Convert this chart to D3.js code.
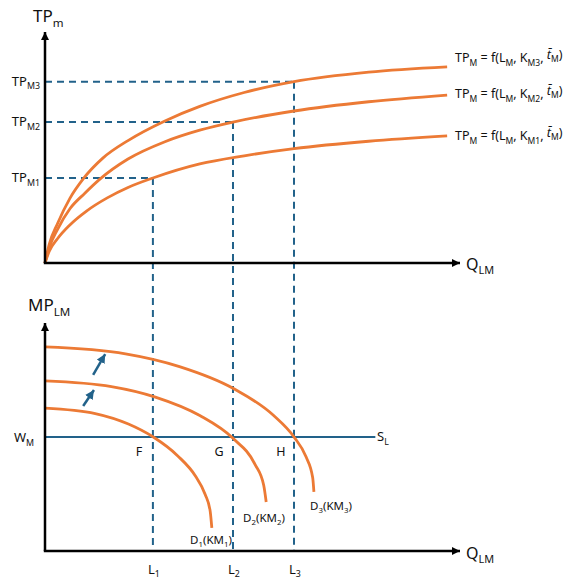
<!DOCTYPE html>
<html><head><meta charset="utf-8">
<script src="https://cdn.jsdelivr.net/npm/d3@7"></script>
<style>body{margin:0;background:#fff}svg{display:block;font-family:"Noto Sans",sans-serif}</style>
</head><body><svg id="c" width="568" height="581"></svg>
<script>
// ---- data (x: labour quantity units 0-100, y: output / MP units 0-100) ----
const tpCurve1 = [[0,0],[1,5],[3,10.5],[6,16.5],[10,22.5],[15,28.2],[20,32.7],[26,36.8],[37.3,42.9],[48,46.4],[60,49.5],[78,52.7],[96.9,55]];
const tpCurve2 = [[0,0],[1,6.5],[3,14.5],[6,23.5],[9.6,30.2],[13.3,36.4],[20,45],[28.9,52.5],[37.3,57.5],[45.3,61],[60,65.8],[78,69.8],[96.9,72.7]];
const tpCurve3 = [[0,0],[1,8],[3,17],[6,28],[9.2,36.4],[14,45.5],[20,53],[28.9,61.5],[37.3,67.8],[48,73.8],[60,78.5],[78,82.6],[96.9,84.9]];
const labourLevels = [26.0, 45.3, 60.0];          // L1, L2, L3
const tpLevels = [36.8, 61.0, 78.5];              // TPM1, TPM2, TPM3
const labourTickLabels = ["1", "2", "3"];
const tpTickLabels = ["M1", "M2", "M3"];
const demand1 = [[0,62.7],[12.1,60.3],[20.1,55.7],[26.0,50.1],[32.0,41.7],[36.2,33.0],[38.6,24.8],[39.8,17.5],[40.2,10.1]];
const demand2 = [[0,74.6],[16.0,72.1],[26.6,67.5],[37.3,59.4],[45.3,49.4],[50.6,38.0],[52.7,28.8],[53.3,21.5]];
const demand3 = [[0,89.5],[19.4,86.5],[32.4,80.9],[45.4,71.3],[55.1,59.4],[60.0,50.0],[62.9,41.3],[64.5,32.2],[64.8,25.9]];
const wageLevel = 50;
const wageLineEnd = 79.6;
const pointLabels = ["F", "G", "H"];
const demandLabels = [["D","1","(KM","1",")"],["D","2","(KM","2",")"],["D","3","(KM","3",")"]];
const shiftArrows = [[[9.2,63.6],[11.8,70.6]],[[11.6,77.2],[14.5,86.4]]];

// ---- layout ----
const ORANGE = "#ec7a35", TEAL = "#22628a", BLACK = "#000";
const svg = d3.select("#c");
const x = d3.scaleLinear().domain([0,100]).range([45,460]);
const yTop = d3.scaleLinear().domain([0,100]).range([263,32]);
const yBot = d3.scaleLinear().domain([0,100]).range([551,323]);

const defs = svg.append("defs");
function marker(id, color, w, h){
  defs.append("marker").attr("id",id).attr("viewBox","0 0 10 10").attr("refX",10).attr("refY",5)
    .attr("markerWidth",w).attr("markerHeight",h).attr("markerUnits","userSpaceOnUse").attr("orient","auto")
    .append("path").attr("d","M0,0L10,5L0,10z").attr("fill",color);
}
marker("ab", BLACK, 10, 8);
marker("at", TEAL, 9, 9);

function subText(g, xx, yy, parts, size, anchor, subDrop){
  const drop = subDrop!==undefined ? subDrop : size*0.28;
  const t = g.append("text").attr("x",xx).attr("y",yy).attr("font-size",size).attr("fill","#111")
    .attr("text-anchor",anchor||"start");
  parts.forEach((p,i)=>{
    const sub = i%2===1;
    const ts = t.append("tspan").text(p.text!==undefined?p.text:p);
    if (p.italic) ts.attr("font-style","italic");
    if (sub) ts.attr("font-size",size*0.68).attr("dy",drop);
    else if (i>0) ts.attr("dy",-drop);
  });
  return t;
}

// dashed guides
labourLevels.forEach((L,i)=>{
  svg.append("line").attr("x1",x(0)).attr("x2",x(L)).attr("y1",yTop(tpLevels[i])).attr("y2",yTop(tpLevels[i]))
    .attr("stroke",TEAL).attr("stroke-width",2).attr("stroke-dasharray","7,5");
  svg.append("line").attr("x1",x(L)).attr("x2",x(L)).attr("y1",yTop(tpLevels[i])).attr("y2",yBot(0))
    .attr("stroke",TEAL).attr("stroke-width",2).attr("stroke-dasharray","7,5");
});

// TP curves
const lineTop = d3.line().x(d=>x(d[0])).y(d=>yTop(d[1])).curve(d3.curveMonotoneX);
[tpCurve1,tpCurve2,tpCurve3].forEach(c=>{
  svg.append("path").attr("d",lineTop(c)).attr("fill","none").attr("stroke",ORANGE).attr("stroke-width",2.8);
});

// wage line
svg.append("line").attr("x1",x(0)).attr("x2",x(wageLineEnd)).attr("y1",yBot(wageLevel)).attr("y2",yBot(wageLevel))
  .attr("stroke",TEAL).attr("stroke-width",2);

// demand curves
const lineBot = d3.line().x(d=>x(d[0])).y(d=>yBot(d[1])).curve(d3.curveMonotoneX);
[demand1,demand2,demand3].forEach(c=>{
  svg.append("path").attr("d",lineBot(c)).attr("fill","none").attr("stroke",ORANGE).attr("stroke-width",2.8);
});

// shift arrows
shiftArrows.forEach(a=>{
  svg.append("line").attr("x1",x(a[0][0])).attr("y1",yBot(a[0][1])).attr("x2",x(a[1][0])).attr("y2",yBot(a[1][1]))
    .attr("stroke",TEAL).attr("stroke-width",2.5).attr("marker-end","url(#at)");
});

// axes
function axes(y, topY){
  svg.append("line").attr("x1",x(0)).attr("y1",y(0)).attr("x2",x(0)).attr("y2",topY)
    .attr("stroke",BLACK).attr("stroke-width",2.5).attr("marker-end","url(#ab)");
  svg.append("line").attr("x1",x(0)-1.2).attr("y1",y(0)).attr("x2",x(100)).attr("y2",y(0))
    .attr("stroke",BLACK).attr("stroke-width",2.5).attr("marker-end","url(#ab)");
}
axes(yTop, 32);
axes(yBot, 323);

// axis titles
subText(svg, 33, 22, ["TP","m"], 17);
subText(svg, 466, 270, ["Q","LM"], 16);
subText(svg, 28, 311, ["MP","LM"], 17);
subText(svg, 466, 559, ["Q","LM"], 16);

// TP tick labels
tpLevels.forEach((v,i)=>{
  subText(svg, 40, yTop(v)+4, ["TP",tpTickLabels[i]], 13, "end");
});
// L tick labels
labourLevels.forEach((L,i)=>{
  subText(svg, x(L)-5, 574, ["L",labourTickLabels[i]], 13, "start", 2.5);
});
// W label
subText(svg, 14, yBot(wageLevel)+5, ["W","M"], 13);
subText(svg, 377, yBot(wageLevel)+4, ["S","L"], 13);

// curve labels
const tpLabelY = [140, 98, 62];
tpLabelY.forEach((yy,i)=>{
  subText(svg, 455, yy, ["TP","M"," = f(L","M",", K",tpTickLabels[i],", ", "", {text:"t̄",italic:true}, "M", ")"], 12.5);
});

// point labels
const ptOffsets = [-14,-14,-13];
labourLevels.forEach((L,i)=>{
  svg.append("text").attr("x",x(L)+ptOffsets[i]).attr("y",yBot(wageLevel)+19).attr("font-size",12.5)
    .attr("text-anchor","middle").attr("fill","#111").text(pointLabels[i]);
});
// demand labels
const dLabPos = [[211,544],[264,522],[331,510]];
demandLabels.forEach((p,i)=>{
  subText(svg, dLabPos[i][0], dLabPos[i][1], p, 11.5, "middle");
});
</script></body></html>
